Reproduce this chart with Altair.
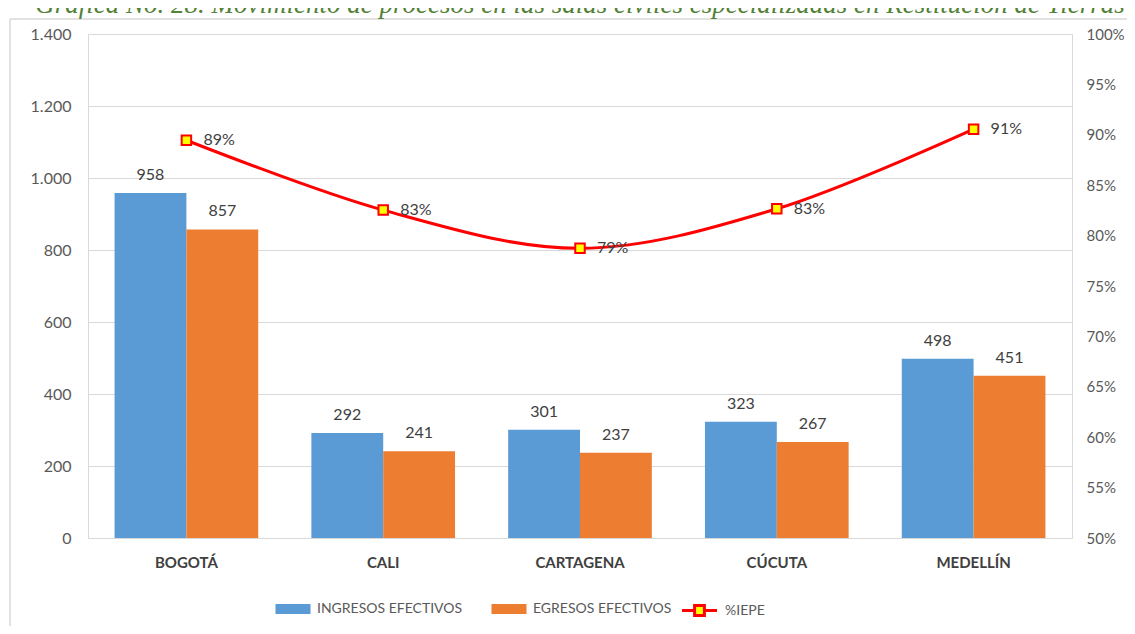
import altair as alt
import pandas as pd

# ---- data ----
cities = ["BOGOTÁ", "CALI", "CARTAGENA", "CÚCUTA", "MEDELLÍN"]
ingresos = [958, 292, 301, 323, 498]
egresos = [857, 241, 237, 267, 451]
iepe = [0.8946, 0.8253, 0.7874, 0.8266, 0.9056]
bar_series = ["INGRESOS EFECTIVOS", "EGRESOS EFECTIVOS"]
line_series = "%IEPE"
bar_colors = ["#5B9BD5", "#ED7D31"]
left_ticks = [0, 200, 400, 600, 800, 1000, 1200, 1400]
right_ticks = [0.50, 0.55, 0.60, 0.65, 0.70, 0.75, 0.80, 0.85, 0.90, 0.95, 1.00]
title_text = "Gráfica No. 28. Movimiento de procesos en las salas civiles especializadas en Restitución de Tierras"

bars_df = pd.DataFrame({
    "city": cities + cities,
    "serie": [bar_series[0]] * len(cities) + [bar_series[1]] * len(cities),
    "value": ingresos + egresos,
})
line_df = pd.DataFrame({"city": cities, "serie": [line_series] * len(cities), "iepe": iepe})

FONT = "Lato"
GRAY = "#595959"
DARK = "#404040"
GRID = "#D9D9D9"
RED = "#FF0000"
YELLOW = "#FFFF00"

SHAPE_BAR = "M-1.5,-0.43H1.5V0.43H-1.5Z"
SHAPE_LINE = "M-1.5,0H-0.42M0.42,0H1.5M-0.42,-0.42H0.42V0.42H-0.42Z"

x_enc = alt.X(
    "city:N", sort=cities,
    scale=alt.Scale(paddingInner=0.27, paddingOuter=0.135),
    axis=alt.Axis(title=None, labelAngle=0, labelFont=FONT, labelFontSize=15,
                  labelFontWeight="bold", labelColor=DARK, labelPadding=17,
                  ticks=False, domain=False),
)
xoff_enc = alt.XOffset("serie:N", sort=bar_series, scale=alt.Scale(paddingInner=0, paddingOuter=0))

y_left = alt.Y(
    "value:Q", scale=alt.Scale(domain=[0, 1400]),
    axis=alt.Axis(values=left_ticks, labelExpr="replace(format(datum.value, ','), ',', '.')",
                  title=None, grid=True, gridColor=GRID, ticks=False, domain=False,
                  labelFont=FONT, labelFontSize=16, labelColor=GRAY, labelPadding=17),
)
y_right = alt.Y(
    "iepe:Q", scale=alt.Scale(domain=[0.5, 1.0]),
    axis=alt.Axis(orient="right", values=right_ticks, format=".0%", title=None, grid=False,
                  ticks=False, domain=False, labelFont=FONT, labelFontSize=15,
                  labelColor=GRAY, labelPadding=14),
)

bar_legend = alt.Legend(
    title=None, orient="none", legendX=193, legendY=563, direction="horizontal",
    labelFont=FONT, labelFontSize=14, labelColor=GRAY, symbolSize=545,
    symbolType=SHAPE_BAR, symbolStrokeWidth=0, symbolOpacity=1,
    labelOffset=12, columnPadding=28, padding=0,
)
line_legend = alt.Legend(
    title=None, orient="none", legendX=598, legendY=563, direction="horizontal",
    labelFont=FONT, labelFontSize=14, labelColor=GRAY, symbolSize=545,
    symbolStrokeWidth=3, symbolOpacity=1, labelOffset=12, padding=0,
)

bars = alt.Chart(bars_df).mark_bar().encode(
    x=x_enc, xOffset=xoff_enc, y=y_left,
    color=alt.Color("serie:N", scale=alt.Scale(domain=bar_series, range=bar_colors),
                    legend=bar_legend),
)
bar_labels = alt.Chart(bars_df).mark_text(
    dy=-13, baseline="alphabetic", fontSize=16, color=DARK, font=FONT
).encode(x=x_enc, xOffset=xoff_enc, y=alt.Y("value:Q"), text=alt.Text("value:Q"))

dummy = pd.DataFrame({"t": [title_text]})
title = alt.Chart(dummy).mark_text(
    font="Liberation Serif", fontStyle="italic", fontSize=27, color="#538135",
    baseline="alphabetic", align="center"
).encode(text="t:N", x=alt.value(492), y=alt.value(-21))
frame_left = alt.Chart(dummy).mark_rule(color=GRID, strokeWidth=1.5).encode(
    x=alt.value(-78), y=alt.value(-15), y2=alt.value(600))
frame_top = alt.Chart(dummy).mark_rule(color=GRID, strokeWidth=1.5).encode(
    x=alt.value(-78), x2=alt.value(1100), y=alt.value(-15))

line = alt.Chart(line_df).mark_line(interpolate="cardinal", strokeWidth=3, color=RED).encode(
    x=x_enc, y=y_right,
)
legend_carrier = alt.Chart(line_df).mark_point(
    filled=True, fill=YELLOW, stroke=RED, strokeWidth=3, opacity=0
).encode(
    x=x_enc, y=alt.Y("iepe:Q"),
    shape=alt.Shape("serie:N", scale=alt.Scale(domain=[line_series], range=[SHAPE_LINE]),
                    legend=line_legend),
)
points = alt.Chart(line_df).mark_point(
    shape="square", filled=True, fill=YELLOW, stroke=RED,
    strokeWidth=2, size=90, opacity=1
).encode(x=x_enc, y=alt.Y("iepe:Q"))
pct_labels = alt.Chart(line_df).mark_text(
    align="left", dx=17, baseline="middle", fontSize=16, color=DARK, font=FONT
).encode(x=x_enc, y=alt.Y("iepe:Q"), text=alt.Text("iepe:Q", format=".0%"))

left = alt.layer(frame_left, frame_top, title, bars, bar_labels)
right = alt.layer(line, legend_carrier, points, pct_labels)

chart = alt.layer(left, right).resolve_scale(y="independent").properties(
    width=984, height=504,
    autosize=alt.AutoSizeParams(type="none"),
    padding={"left": 80, "top": 26, "right": 55, "bottom": 88},
).configure_view(stroke=GRID, strokeWidth=1)

chart.save("out.html", embed_options={"renderer": "svg", "actions": False})
